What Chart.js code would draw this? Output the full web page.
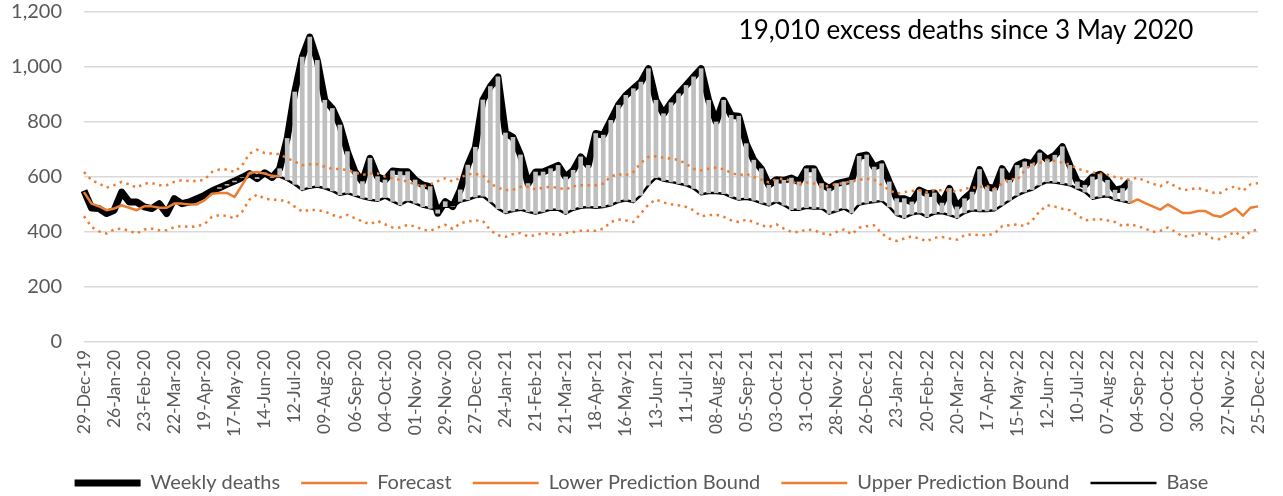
<!DOCTYPE html>
<html>
<head>
<meta charset="utf-8">
<script src="https://cdn.jsdelivr.net/npm/chart.js@4.4.1/dist/chart.umd.min.js"></script>
<style>
    html, body { margin: 0; padding: 0; background: #fff; }
    #wrap { width: 1283px; height: 496px; position: relative; }
</style>
</head>
<body>
<div id="wrap"><canvas id="chart"></canvas></div>
<script>
// tick labels shown on the x axis, one every 4 weeks from 29-Dec-19
const tickLabels = [
    '29-Dec-19', '26-Jan-20', '23-Feb-20', '22-Mar-20', '19-Apr-20', '17-May-20', '14-Jun-20', '12-Jul-20',
    '09-Aug-20', '06-Sep-20', '04-Oct-20', '01-Nov-20', '29-Nov-20', '27-Dec-20', '24-Jan-21', '21-Feb-21',
    '21-Mar-21', '18-Apr-21', '16-May-21', '13-Jun-21', '11-Jul-21', '08-Aug-21', '05-Sep-21', '03-Oct-21',
    '31-Oct-21', '28-Nov-21', '26-Dec-21', '23-Jan-22', '20-Feb-22', '20-Mar-22', '17-Apr-22', '15-May-22',
    '12-Jun-22', '10-Jul-22', '07-Aug-22', '04-Sep-22', '02-Oct-22', '30-Oct-22', '27-Nov-22', '25-Dec-22',
]

// weekly deaths, week 0 .. 139
const weeklyDeaths = [
    550, 487, 485, 467, 479, 545, 509, 509, 491, 485,
    503, 467, 521, 503, 509, 521, 533, 549, 561, 573,
    585, 598, 612, 594, 615, 598, 630, 740, 909, 1036,
    1109, 1024, 879, 849, 789, 692, 619, 583, 668, 601,
    589, 622, 619, 619, 589, 571, 565, 468, 510, 492,
    553, 643, 708, 880, 929, 964, 760, 744, 680, 576,
    618, 618, 630, 642, 600, 624, 673, 642, 758, 752,
    806, 861, 897, 921, 945, 994, 879, 830, 870, 903,
    933, 964, 994, 879, 800, 879, 824, 821, 721, 661,
    630, 570, 590, 588, 596, 582, 630, 630, 576, 558,
    576, 582, 588, 675, 680, 636, 648, 582, 521, 521,
    509, 552, 539, 542, 505, 558, 491, 521, 545, 627,
    564, 558, 630, 588, 642, 655, 648, 687, 663, 679,
    710, 642, 582, 570, 600, 610, 588, 552, 558, 585,
]

// forecast: start of 2020 and after the last reported week
const forecastStart = [
    545, 503, 493, 479, 485, 497, 488, 479, 493, 493,
    488, 488, 503, 503, 500, 500, 515, 539, 542, 542,
    527, 570, 615, 618, 612, 604, 602,
]
const forecastEnd = [ // weeks 139 .. 156
    505, 518, 505, 493, 481, 500, 485, 469, 469, 476,
    476, 461, 455, 469, 485, 459, 488, 493,
]

const lowerBound = [
    457, 418, 402, 394, 409, 412, 404, 394, 409, 412,
    406, 406, 418, 421, 418, 421, 428, 455, 461, 458,
    449, 473, 518, 536, 521, 518, 516, 511, 492, 474,
    480, 480, 474, 462, 453, 462, 450, 438, 428, 440,
    428, 416, 416, 426, 420, 408, 404, 416, 426, 411,
    432, 438, 442, 440, 406, 388, 382, 392, 396, 384,
    388, 396, 394, 388, 396, 400, 404, 404, 404, 412,
    436, 445, 442, 436, 467, 500, 518, 507, 501, 497,
    491, 479, 457, 461, 463, 455, 442, 436, 445, 436,
    424, 418, 428, 412, 400, 400, 409, 406, 396, 388,
    400, 409, 391, 415, 421, 424, 394, 376, 367, 376,
    384, 376, 366, 379, 382, 376, 372, 388, 391, 388,
    388, 394, 421, 424, 427, 421, 442, 476, 497, 492,
    484, 479, 461, 442, 445, 446, 442, 436, 421, 428,
    421, 412, 400, 404, 416, 400, 384, 384, 394, 394,
    376, 373, 388, 400, 379, 402, 409,
]

const upperBound = [
    618, 588, 576, 561, 570, 582, 573, 561, 576, 578,
    570, 570, 582, 588, 585, 585, 590, 618, 627, 627,
    618, 642, 685, 699, 687, 685, 683, 668, 656, 643,
    646, 646, 637, 629, 629, 625, 617, 607, 613, 613,
    601, 595, 589, 583, 573, 565, 573, 585, 595, 583,
    598, 610, 611, 606, 576, 561, 552, 554, 564, 564,
    554, 561, 564, 561, 554, 566, 570, 570, 570, 576,
    602, 610, 606, 618, 651, 673, 675, 670, 666, 662,
    648, 630, 624, 630, 634, 628, 615, 606, 612, 600,
    590, 580, 592, 594, 585, 570, 580, 576, 562, 568,
    574, 578, 585, 589, 594, 590, 570, 552, 539, 545,
    549, 552, 545, 552, 552, 552, 545, 558, 560, 564,
    566, 558, 576, 594, 590, 624, 648, 651, 663, 658,
    652, 645, 630, 622, 616, 612, 608, 600, 594, 590,
    598, 585, 576, 566, 581, 566, 552, 555, 560, 552,
    543, 542, 558, 566, 549, 573, 578,
]

// base (expected deaths), weeks 18 .. 139 (from 3 May 2020)
const baseStartWeek = 18
const base = [
    558, 570, 582, 598, 610, 598, 612, 600, 601, 589, 573, 553,
    561, 565, 559, 549, 535, 541, 532, 523, 517, 513,
    525, 511, 498, 513, 504, 492, 486, 480, 492, 492,
    511, 517, 527, 530, 509, 485, 469, 476, 481, 473,
    467, 473, 481, 481, 467, 481, 488, 491, 488, 491,
    497, 509, 515, 509, 533, 570, 597, 587, 582, 576,
    570, 558, 537, 542, 542, 539, 527, 518, 521, 515,
    505, 497, 509, 497, 481, 481, 488, 485, 485, 467,
    476, 485, 469, 500, 505, 509, 513, 491, 461, 452,
    464, 469, 455, 467, 469, 461, 452, 469, 479, 476,
    476, 479, 497, 515, 533, 545, 554, 570, 582, 580,
    575, 570, 558, 545, 521, 527, 530, 518, 512, 506,
]

const excessNote = '19,010 excess deaths since 3 May 2020'

// ======================

const nWeeks = tickLabels.length * 4 - 3
const weeks = Array.from({ length: nWeeks }, (_, i) => i)
const pad = (arr, start) => weeks.map(i => (i >= start && i < start + arr.length ? arr[i - start] : null))

const weeklyData = pad(weeklyDeaths, 0)
const forecastData = weeks.map(i =>
    i < forecastStart.length ? forecastStart[i]
        : i >= nWeeks - forecastEnd.length ? forecastEnd[i - (nWeeks - forecastEnd.length)]
            : null)
const baseData = pad(base, baseStartWeek)
// grey excess bars go from base up (or down) to the weekly deaths
const excessBars = weeks.map(i => (baseData[i] != null && weeklyData[i] != null ? [baseData[i], weeklyData[i]] : null))

const orange = '#ed7d31'
const font = 'Lato, "Open Sans", sans-serif'

const notePlugin = {
    id: 'excessNote',
    afterDraw(chart) {
        const { ctx } = chart
        ctx.save()
        ctx.font = '26px ' + font
        ctx.fillStyle = '#000'
        ctx.textAlign = 'center'
        ctx.textBaseline = 'middle'
        ctx.fillText(excessNote, 966, 31)
        ctx.restore()
    },
}

const chart = new Chart(document.getElementById('chart'), {
    type: 'line',
    data: {
        labels: weeks,
        datasets: [
            {
                label: 'Weekly deaths',
                data: weeklyData,
                borderColor: '#000',
                backgroundColor: '#000',
                borderWidth: 7,
                order: 5,
            },
            {
                label: 'Forecast',
                data: forecastData,
                borderColor: orange,
                backgroundColor: orange,
                borderWidth: 2.5,
                order: 0,
            },
            {
                label: 'Lower Prediction Bound',
                data: lowerBound,
                borderColor: orange,
                backgroundColor: orange,
                borderWidth: 2.5,
                borderDash: [2.5, 4.5],
                order: 2,
            },
            {
                label: 'Upper Prediction Bound',
                data: upperBound,
                borderColor: orange,
                backgroundColor: orange,
                borderWidth: 2.5,
                borderDash: [2.5, 4.5],
                order: 1,
            },
            {
                label: 'Base',
                data: baseData,
                borderColor: '#000',
                backgroundColor: '#000',
                borderWidth: 2.5,
                order: 4,
            },
            {
                type: 'bar',
                label: 'Excess',
                data: excessBars,
                backgroundColor: '#bfbfbf',
                barThickness: 4,
                order: 3,
            },
        ],
    },
    options: {
        responsive: true,
        maintainAspectRatio: false,
        animation: false,
        layout: { padding: { top: 0, right: 0, left: 0, bottom: -7 } },
        elements: {
            point: { radius: 0, hoverRadius: 0 },
            line: { tension: 0, fill: false, borderJoinStyle: 'round' },
        },
        scales: {
            x: {
                type: 'category',
                offset: false,
                grid: { display: false, drawTicks: false },
                border: { display: false },
                afterFit: s => { s.paddingLeft = 0; s.paddingRight = 25; s.height += 7 },
                ticks: {
                    autoSkip: false,
                    minRotation: 90,
                    maxRotation: 90,
                    padding: 8,
                    color: '#595959',
                    font: { family: font, size: 17.5 },
                    callback: (v, i) => (i % 4 === 0 ? tickLabels[i / 4] : null),
                },
            },
            y: {
                min: 0,
                max: 1200,
                grid: { color: '#d9d9d9', lineWidth: 1.5, drawTicks: false },
                border: { display: false },
                afterFit: s => { s.paddingTop = 12; s.paddingBottom = 0; s.width = 84 },
                ticks: {
                    stepSize: 200,
                    padding: 22,
                    color: '#595959',
                    font: { family: font, size: 20 },
                    callback: v => v.toLocaleString('en-US'),
                },
            },
        },
        plugins: {
            tooltip: { enabled: false },
            legend: {
                position: 'bottom',
                labels: {
                    usePointStyle: true,
                    pointStyle: 'line',
                    pointStyleWidth: 66,
                    boxHeight: 10,
                    padding: 21,
                    color: '#595959',
                    font: { family: font, size: 20 },
                    filter: item => item.text !== 'Excess',
                    sort: (a, b) => a.datasetIndex - b.datasetIndex,
                },
            },
        },
    },
    plugins: [notePlugin],
})
</script>
</body>
</html>
